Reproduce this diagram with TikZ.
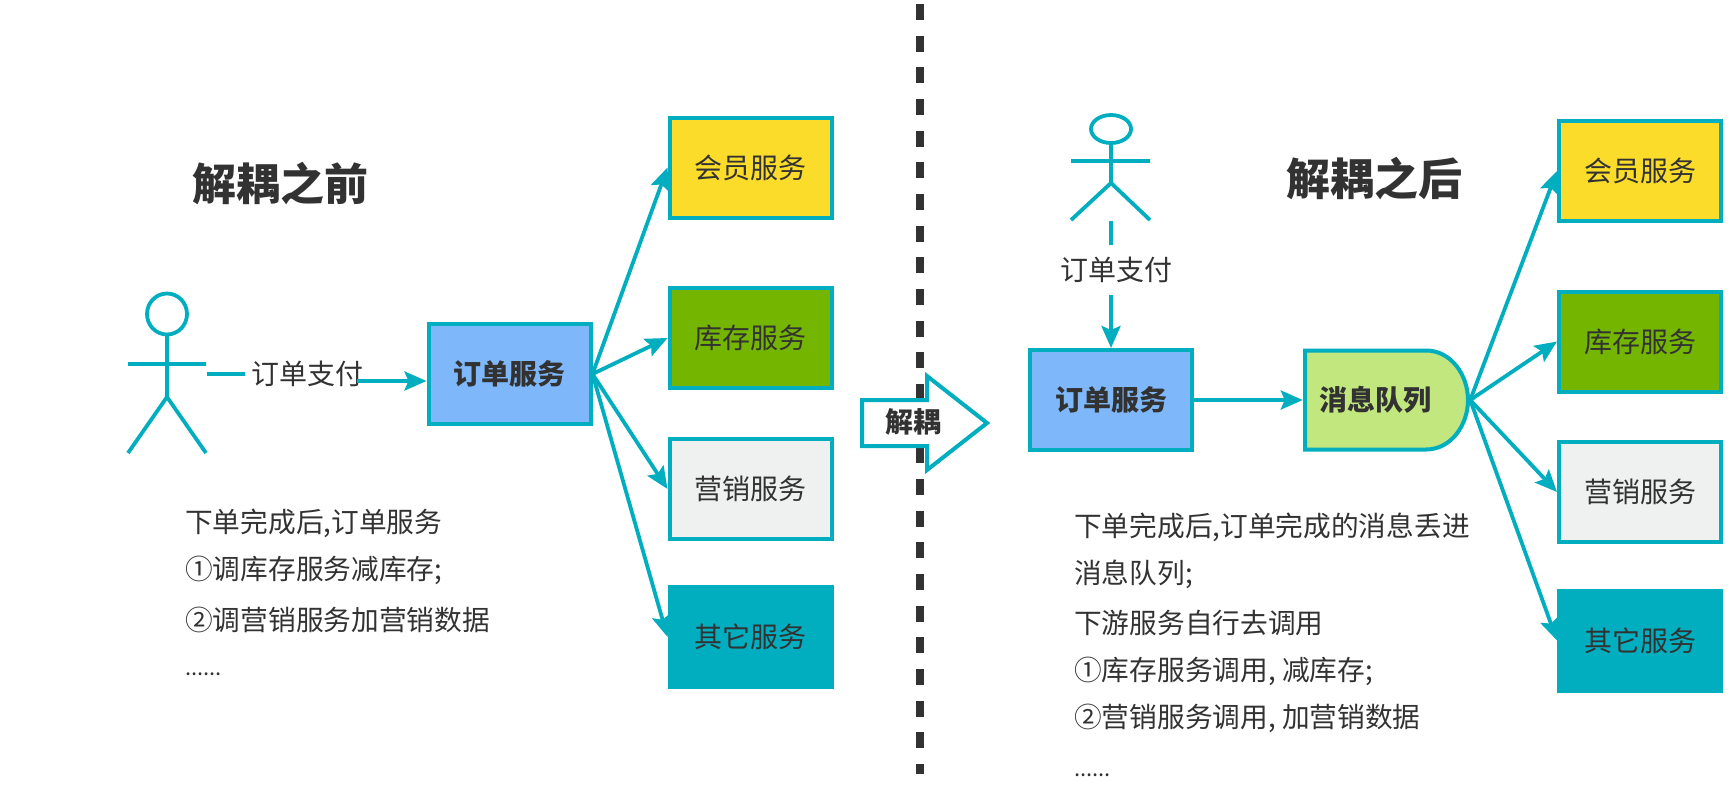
\documentclass[tikz,border=0pt]{standalone}
\usepackage{fontspec}
\setmainfont{Noto Sans CJK SC}
\usetikzlibrary{arrows.meta}
\definecolor{tealline}{HTML}{00AEBF}
\definecolor{inkc}{HTML}{323232}
\definecolor{yellowc}{HTML}{FBDC2A}
\definecolor{greenc}{HTML}{74B500}
\definecolor{greyc}{HTML}{EFF1F0}
\definecolor{bluec}{HTML}{7FB8FA}
\definecolor{limec}{HTML}{C1E77E}
\tikzset{
  x=1pt,y=-1pt,
  line/.style={draw=tealline,line width=3.8pt},
  conn/.style={draw=tealline,line width=3.8pt},
  arr/.style={conn,-{Stealth[inset=4pt,length=22pt,width=19pt]}},
  box/.style={draw=tealline,line width=4pt,text=inkc,font=\fontsize{28}{28}\selectfont,
     minimum width=162pt,minimum height=100pt,inner sep=0pt,anchor=center},
  bbox/.style={box,font=\fontsize{28}{28}\selectfont\bfseries},
  title/.style={text=inkc,font=\fontsize{44}{44}\selectfont\bfseries,inner sep=0pt},
  lbl/.style={text=inkc,font=\fontsize{28}{28}\selectfont,inner sep=0pt},
  txt/.style={lbl,anchor=west,font=\fontsize{27.7}{28}\selectfont},
  dots/.style={txt,font=\fontsize{22}{22}\selectfont},
}
\begin{document}
\begin{tikzpicture}
\useasboundingbox (0,0) rectangle (1736,804);
% divider
\coordinate (divT) at (919.5,-27.7);
\coordinate (divB) at (919.5,774);
\draw[draw=inkc,line width=8pt,dash pattern=on 16pt off 15.67pt] (divT) -- (divB);

% titles
\node[title] (t1) at (280,184) {解耦之前};
\node[title] (t2) at (1374,179) {解耦之后};

% left actor
\draw[line] (167,314) ellipse [x radius=20,y radius=20.5];
\draw[line] (167,334) -- (167,397) (128,364) -- (206,364) (128,453) -- (167,397) -- (206,453);
\coordinate (actA) at (207,374);

% left boxes
\node[bbox,fill=bluec] (orderA) at (509.5,374) {订单服务};
\node[box,fill=yellowc] (memA) at (750.5,167.5) {会员服务};
\node[box,fill=greenc] (stockA) at (750.5,338) {库存服务};
\node[box,fill=greyc] (markA) at (750.5,489) {营销服务};
\node[box,fill=tealline,draw=tealline] (otherA) at (750.5,637) {其它服务};

% left label and connector
\node[lbl] (payA) at (307,374) {订单支付};
\coordinate (payAin) at (245,374);
\coordinate (payAout) at (357,381);
\draw[conn] (actA) -- (payAin);
\draw[arr] (payAout) -- (payAout -| orderA.west);

\draw[arr] (orderA.east) -- (memA.west);
\draw[arr] (orderA.east) -- (stockA.west);
\draw[arr] (orderA.east) -- (markA.west);
\draw[arr] (orderA.east) -- (otherA.west);

% left text
\node[txt] (a1) at (185,523) {下单完成后,订单服务};
\node[txt] (a2) at (185,570) {①调库存服务减库存;};
\node[txt] (a3) at (185,620) {②调营销服务加营销数据};
\node[dots] (a4) at (185,674) {......};

% decouple arrow
\draw[draw=tealline,line width=4pt,fill=white]
  (862,400) -- (927,400) -- (927,376) -- (987,423) -- (927,470) -- (927,446) -- (862,446) -- cycle;
\node[lbl,font=\fontsize{28}{28}\selectfont\bfseries] (dec) at (913,422) {解耦};

% right actor
\draw[line] (1111,129) ellipse [x radius=20,y radius=14];
\draw[line] (1111,143) -- (1111,183) (1071,161) -- (1150,161) (1071,220) -- (1111,183) -- (1150,220);

% right boxes
\node[bbox,fill=bluec] (orderB) at (1111,400) {订单服务};
\draw[draw=tealline,line width=4pt,fill=limec]
  (1305,350.5) -- (1426,350.5) .. controls (1451,350.5) and (1468,375) .. (1468,400)
  .. controls (1468,425) and (1451,449.5) .. (1426,449.5) -- (1305,449.5) -- cycle;
\node[lbl,font=\fontsize{28}{28}\selectfont\bfseries,minimum width=167pt,minimum height=103pt,text width=167pt,align=left] (queue) at (1386.5,400) {\hspace{16pt}消息队列};
\node[box,fill=yellowc] (memB) at (1640,171) {会员服务};
\node[box,fill=greenc] (stockB) at (1640,341.5) {库存服务};
\node[box,fill=greyc] (markB) at (1640,492) {营销服务};
\node[box,fill=tealline,draw=tealline] (otherB) at (1640,640.5) {其它服务};

% right label and connectors
\node[lbl] (payB) at (1116.5,270) {订单支付};
\coordinate (actBfoot) at (1111,221);
\coordinate (payBin) at (1111,245);
\coordinate (payBout) at (1111,295);
\draw[conn] (actBfoot) -- (payBin);
\draw[arr] (payBout) -- (orderB.north);
\draw[arr] (orderB.east) -- (queue.west);
\draw[arr] (queue.east) -- (memB.west);
\draw[arr] (queue.east) -- (stockB.west);
\draw[arr] (queue.east) -- (markB.west);
\draw[arr] (queue.east) -- (otherB.west);

% right text
\node[txt] (b1) at (1074,527) {下单完成后,订单完成的消息丢进};
\node[txt] (b2) at (1074,574) {消息队列;};
\node[txt] (b3) at (1074,623) {下游服务自行去调用};
\node[txt] (b4) at (1074,671) {①库存服务调用, 减库存;};
\node[txt] (b5) at (1074,718) {②营销服务调用, 加营销数据};
\node[dots] (b6) at (1074,775) {......};
\end{tikzpicture}
\end{document}
